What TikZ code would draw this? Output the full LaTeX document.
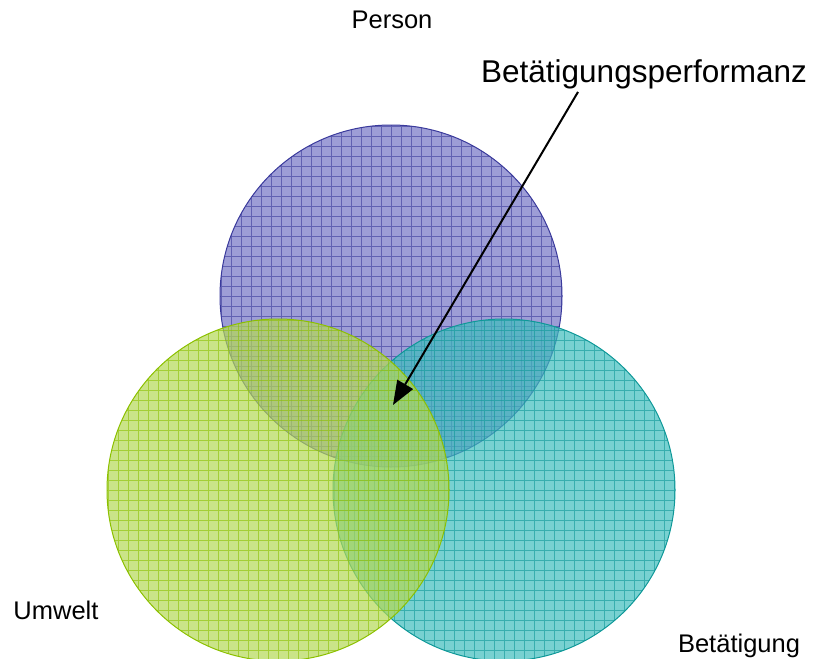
\documentclass[tikz,border=0pt]{standalone}
\usepackage{fontspec}
\setmainfont{Liberation Sans}
\usetikzlibrary{arrows.meta}

\definecolor{personfill}{HTML}{7373C4}
\definecolor{personline}{HTML}{3A3A9C}
\definecolor{umweltfill}{HTML}{B4D955}
\definecolor{umweltline}{HTML}{8CC000}
\definecolor{taetigfill}{HTML}{3FBDBD}
\definecolor{taetigline}{HTML}{0E9898}

\begin{document}
\begin{tikzpicture}[x=0.5pt, y=-0.5pt, every node/.style={inner sep=0pt},
    sphere/.style={circle, minimum size=171pt, draw=#1line, line width=0.5pt, fill=#1fill, fill opacity=0.7,
        path picture={\draw[#1line, draw opacity=0.6, line width=0.5pt, step=5pt] (path picture bounding box.south west) grid (path picture bounding box.north east);}},
    small/.style={font=\fontsize{12.75pt}{15pt}\selectfont, anchor=base},
    big/.style={font=\fontsize{15.75pt}{18pt}\selectfont, anchor=base}]
    \useasboundingbox (0,0) rectangle (817,658);

    % Circles
    \node (person) at (391,296) [sphere=person] {};
    \node (taetig) at (504,490) [sphere=taetig] {};
    \node (umwelt) at (278,490) [sphere=umwelt] {};

    % Labels
    \node (lperson) at (392,29) [small] {Person};
    \node (lumwelt) at (56,619) [small] {Umwelt};
    \node (ltaetig) at (739,652) [small] {Betätigung};
    \node (perf) at (644,83) [big] {Betätigungsperformanz};

    % Arrow to the common core
    \coordinate (core) at (393,405);
    \draw[-{Triangle[length=12pt, width=9pt]}, line width=1pt] ([xshift=-33pt, yshift=-1pt]perf.south) -- (core);
\end{tikzpicture}
\end{document}
